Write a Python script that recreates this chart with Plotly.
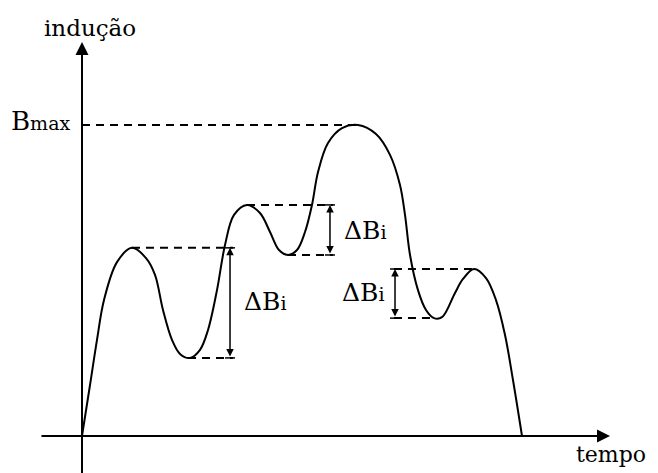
import plotly.graph_objects as go

# ---- data (time in arbitrary units, induction normalised to Bmax = 1) ----
t_curve = [0.0, 0.182, 0.341, 0.5, 0.795, 1.136, 1.455, 1.659, 1.841, 2.045,
           2.227, 2.455, 2.682, 2.864, 3.068, 3.25, 3.455, 3.75, 4.045, 4.273,
           4.477, 4.682, 4.886, 5.068, 5.227, 5.364, 5.591, 5.909, 6.273, 6.682,
           7.0, 7.227, 7.341, 7.455, 7.636, 7.818, 8.0, 8.182, 8.477, 8.659,
           8.909, 9.182, 9.409, 9.614, 9.795, 10.0]
B_curve = [0.0, 0.164, 0.309, 0.437, 0.559, 0.605, 0.572, 0.518, 0.405, 0.309,
           0.264, 0.251, 0.277, 0.341, 0.469, 0.614, 0.711, 0.743, 0.717, 0.656,
           0.598, 0.582, 0.598, 0.656, 0.743, 0.849, 0.942, 0.990, 1.0, 0.971,
           0.904, 0.807, 0.711, 0.582, 0.469, 0.405, 0.379, 0.382, 0.460, 0.505,
           0.537, 0.508, 0.437, 0.325, 0.180, 0.0]

# dashed reference levels: level, start t, end t
level_B = [1.0, 0.605, 0.251, 0.743, 0.582, 0.537, 0.379]
level_t0 = [0.0, 1.136, 2.409, 3.75, 4.682, 7.09, 7.09]
level_t1 = [6.273, 3.43, 3.43, 5.70, 5.70, 8.909, 8.0]

# Delta B arrows: t position, top, bottom
dB_t = [3.364, 5.636, 7.114]
dB_top = [0.605, 0.743, 0.537]
dB_bot = [0.251, 0.582, 0.379]
dB_label = ["ΔB<span style='font-size:19px'>i</span>"] * 3
dB_label_t = [3.636, 5.909, 6.93]
dB_label_B = [0.431, 0.662, 0.46]
dB_label_anchor = ["left", "left", "right"]

x_label = "tempo"
y_label = "indução"
bmax_label = "B<span style='font-size:19px'>max</span>"

FONT = "DejaVu Serif"

fig = go.Figure()

# dashed level lines
for b, a0, a1 in zip(level_B, level_t0, level_t1):
    fig.add_trace(go.Scatter(x=[a0, a1], y=[b, b], mode="lines",
                             line=dict(color="black", width=2, dash="8px,6px"),
                             hoverinfo="skip", showlegend=False))

# main curve
fig.add_trace(go.Scatter(x=t_curve, y=B_curve, mode="lines",
                         line=dict(color="black", width=2, shape="spline", smoothing=1.0),
                         hoverinfo="skip", showlegend=False))

annotations = []
shapes = []

# axes with arrows
annotations.append(dict(x=12.0, y=0, ax=-0.955, ay=0, xref="x", yref="y",
                        axref="x", ayref="y", text="", showarrow=True,
                        arrowhead=2, arrowsize=1.3, arrowwidth=2, arrowcolor="black"))
annotations.append(dict(x=0, y=1.267, ax=0, ay=-0.125, xref="x", yref="y",
                        axref="x", ayref="y", text="", showarrow=True,
                        arrowhead=2, arrowsize=1.3, arrowwidth=2, arrowcolor="black"))

# delta B double arrows
for t, top, bot in zip(dB_t, dB_top, dB_bot):
    annotations.append(dict(x=t, y=top, ax=t, ay=bot, xref="x", yref="y",
                            axref="x", ayref="y", text="", showarrow=True,
                            arrowhead=2, startarrowhead=2, arrowside="end+start",
                            arrowsize=1.0, startarrowsize=1.0, arrowwidth=1.5,
                            arrowcolor="black"))
    for yy in (top, bot):
        shapes.append(dict(type="line", xref="x", yref="y", xsizemode="pixel",
                           xanchor=t, x0=-5, x1=5, y0=yy, y1=yy,
                           line=dict(color="black", width=1.5)))

for txt, t, b, anc in zip(dB_label, dB_label_t, dB_label_B, dB_label_anchor):
    annotations.append(dict(x=t, y=b, xref="x", yref="y", text=txt, showarrow=False,
                            xanchor=anc, yanchor="middle",
                            font=dict(family=FONT, size=25, color="black")))

annotations.append(dict(x=12.02, y=-0.058, xref="x", yref="y", text=x_label,
                        showarrow=False, xanchor="center", yanchor="middle",
                        font=dict(family=FONT, size=22, color="black")))
annotations.append(dict(x=0.18, y=1.312, xref="x", yref="y", text=y_label,
                        showarrow=False, xanchor="center", yanchor="middle",
                        font=dict(family=FONT, size=23, color="black")))
annotations.append(dict(x=-0.227, y=1.013, xref="x", yref="y", text=bmax_label,
                        showarrow=False, xanchor="right", yanchor="middle",
                        font=dict(family=FONT, size=26, color="black")))

# the page body adds an 8 px offset, so the figure is 8 px smaller and ranges compensate
fig.update_layout(
    width=650, height=465,
    margin=dict(l=0, r=0, t=0, b=0),
    paper_bgcolor="white", plot_bgcolor="white",
    xaxis=dict(range=[-1.6818, 13.0909], visible=False, fixedrange=True),
    yaxis=dict(range=[-0.119, 1.3762], visible=False, fixedrange=True),
    annotations=annotations, shapes=shapes,
    showlegend=False,
)

fig.write_html("out.html")
